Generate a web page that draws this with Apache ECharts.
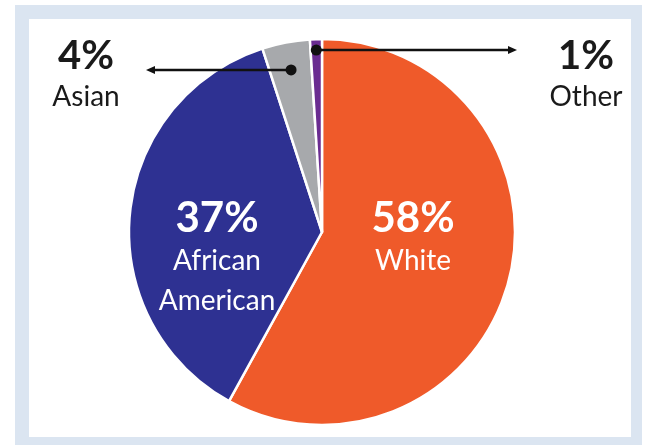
<!DOCTYPE html>
<html>
<head>
<meta charset="UTF-8">
<title>Pie</title>
<script src="https://cdn.jsdelivr.net/npm/echarts@6/dist/echarts.min.js"></script>
<style>
  html, body { margin: 0; padding: 0; background: #fff; }
  #main { width: 647px; height: 445px; }
</style>
</head>
<body>
<div id="main"></div>
<script>
// data
var names = ['White', 'African American', 'Asian', 'Other'];
var shares = [58, 37, 4, 1];

var chart = echarts.init(document.getElementById('main'));

var cx = 322, cy = 232, R = 193;
var total = shares.reduce(function (a, b) { return a + b; }, 0);

// middle angle of a slice, degrees clockwise from 12 o'clock
function midAngle(i) {
  var before = 0;
  for (var k = 0; k < i; k++) before += shares[k];
  return (before + shares[i] / 2) / total * 360;
}
function polar(deg, r) {
  var a = deg * Math.PI / 180;
  return [cx + r * Math.sin(a), cy - r * Math.cos(a)];
}

// where each label block sits (centre)
var labelSpots = [[413, 238], [217, 258], [86, 74], [586, 74]];

var inside = { 0: true, 1: true };
var dataItems = names.map(function (n, i) {
  return {
    name: n,
    value: shares[i],
    label: inside[i] ? { color: '#fff' } : { color: '#1a1a1a' }
  };
});

// leader lines: dot inside the slice, arrow out to the text
var asianDot = polar(midAngle(2), 165);
var otherDot = polar(midAngle(3), 182);
function leader(dot, tipX) {
  var dir = tipX < dot[0] ? -1 : 1;
  var y = dot[1];
  return [
    { type: 'line', z: 100, shape: { x1: dot[0], y1: y, x2: tipX - dir * 6, y2: y },
      style: { stroke: '#111', lineWidth: 2.5 } },
    { type: 'circle', z: 101, shape: { cx: dot[0], cy: y, r: 5.5 }, style: { fill: '#111' } },
    { type: 'polygon', z: 101, shape: { points: [[tipX, y], [tipX - dir * 9, y - 4], [tipX - dir * 9, y + 4]] },
      style: { fill: '#111' } }
  ];
}

var graphics = [
  { type: 'rect', z: -10, silent: true, shape: { x: 15, y: 5, width: 627, height: 440 }, style: { fill: '#dbe5f1' } },
  { type: 'rect', z: -9, silent: true, shape: { x: 29, y: 19, width: 602, height: 418 }, style: { fill: '#ffffff' } }
].concat(leader(asianDot, 146), leader(otherDot, 517));

chart.setOption({
  animation: false,
  textStyle: { fontFamily: 'Lato' },
  graphic: graphics,
  series: [{
    type: 'pie',
    center: [cx, cy],
    radius: R,
    startAngle: 90,
    clockwise: true,
    avoidLabelOverlap: false,
    color: ['#ef5a2a', '#2e3192', '#a7a9ac', '#6a2c91'],
    itemStyle: { borderColor: '#fff', borderWidth: 2.5 },
    label: {
      show: true,
      position: 'inside',
      formatter: function (p) {
        var big = p.dataIndex < 2 ? 'p' : 'q';
        var small = p.dataIndex < 2 ? 'n' : 'm';
        return '{' + big + '|' + p.value + '%}\n' +
          p.name.split(' ').map(function (w) { return '{' + small + '|' + w + '}'; }).join('\n');
      },
      rich: {
        p: { fontSize: 42, fontWeight: 'bold', fontFamily: 'Lato', color: '#fff', lineHeight: 46, align: 'center' },
        n: { fontSize: 28, fontFamily: 'Lato', color: '#fff', lineHeight: 40, align: 'center' },
        q: { fontSize: 40, fontWeight: 'bold', fontFamily: 'Lato', color: '#1a1a1a', lineHeight: 46, align: 'center' },
        m: { fontSize: 28, fontFamily: 'Lato', color: '#1a1a1a', lineHeight: 36, align: 'center' }
      }
    },
    labelLine: { show: false },
    labelLayout: function (p) {
      var s = labelSpots[p.dataIndex];
      return { x: s[0], y: s[1], align: 'center', verticalAlign: 'middle' };
    },
    emphasis: { disabled: true },
    data: dataItems
  }]
});
</script>
</body>
</html>
